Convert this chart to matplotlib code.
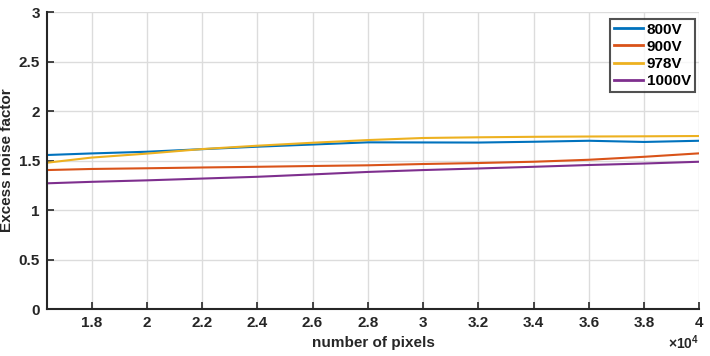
import matplotlib
matplotlib.use("Agg")
from matplotlib import pyplot as plt

# number of pixels and excess noise factor
pixels = [16384, 18000, 20000, 22000, 24000, 26000, 28000, 30000, 32000,
          34000, 36000, 38000, 40000]
enf_800 = [1.556, 1.572, 1.589, 1.615, 1.640, 1.662, 1.684, 1.683, 1.682,
           1.690, 1.700, 1.688, 1.700]
enf_900 = [1.404, 1.415, 1.422, 1.430, 1.437, 1.445, 1.452, 1.465, 1.475,
           1.488, 1.508, 1.538, 1.573]
enf_978 = [1.478, 1.530, 1.570, 1.616, 1.650, 1.680, 1.707, 1.728, 1.735,
           1.740, 1.743, 1.745, 1.748]
enf_1000 = [1.270, 1.285, 1.300, 1.318, 1.336, 1.360, 1.385, 1.404, 1.420,
            1.437, 1.455, 1.470, 1.488]

series = [("800V", enf_800, "#0072BD"),
          ("900V", enf_900, "#D95319"),
          ("978V", enf_978, "#EDB120"),
          ("1000V", enf_1000, "#7E2F8E")]

x_ticks = [18000, 20000, 22000, 24000, 26000, 28000, 30000, 32000, 34000,
           36000, 38000, 40000]
y_ticks = [0, 0.5, 1, 1.5, 2, 2.5, 3]

plt.rcParams["font.family"] = ["Liberation Sans", "DejaVu Sans"]
plt.rcParams["font.weight"] = "bold"
plt.rcParams["mathtext.fontset"] = "custom"
plt.rcParams["mathtext.rm"] = "Liberation Sans"

fig = plt.figure(figsize=(7.1, 3.56), dpi=100)
ax = fig.add_axes([0.066, 0.132, 0.919, 0.834])

for label, values, color in series:
    ax.plot(pixels, values, color=color, lw=1.5, label=label)

ax.set_xlim(16384, 40000)
ax.set_ylim(0, 3)
ax.set_xticks(x_ticks)
ax.set_xticklabels(["{:g}".format(t / 1e4) for t in x_ticks])
ax.set_yticks(y_ticks)
ax.set_yticklabels(["{:g}".format(t) for t in y_ticks])

ax.grid(True, color="#dcdcdc", lw=1)
ax.set_axisbelow(True)
for side in ("top", "right"):
    ax.spines[side].set_visible(False)
for side in ("left", "bottom"):
    ax.spines[side].set_color("#262626")
    ax.spines[side].set_linewidth(1.5)
ax.tick_params(direction="in", length=5, width=1.2, colors="#262626",
               labelsize=11, pad=5)

ax.set_xlabel("number of pixels", fontsize=11, fontweight="bold",
              color="#262626")
ax.xaxis.set_label_coords(0.5, -0.092)
ax.set_ylabel("Excess noise factor", fontsize=11, fontweight="bold",
              color="#262626")
ax.yaxis.set_label_coords(-0.05, 0.5)
ax.text(1.0, -0.113, r"$\times\mathrm{10}^{\mathrm{4}}$",
        transform=ax.transAxes, ha="right", va="center", fontsize=10,
        fontweight="normal", color="#262626")

leg = ax.legend(loc="upper right", fontsize=11, frameon=True, fancybox=False,
                handlelength=1.9, handletextpad=0.25, labelspacing=0.2,
                borderpad=0.25, borderaxespad=0.0,
                bbox_to_anchor=(0.993, 0.977))
leg.get_frame().set_edgecolor("#262626")
leg.get_frame().set_linewidth(1.5)
for h in leg.get_lines():
    h.set_linewidth(2)

fig.savefig("out.png", dpi=100)
